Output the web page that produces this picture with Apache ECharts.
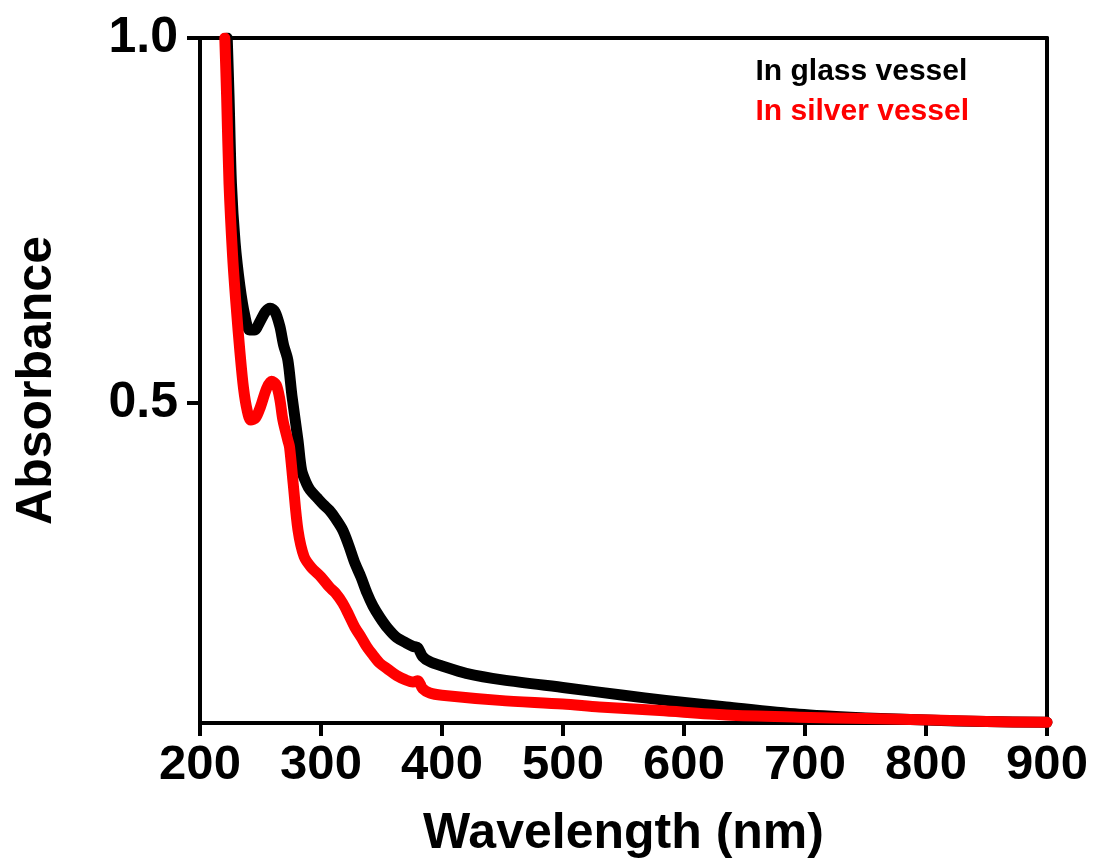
<!DOCTYPE html>
<html>
<head>
<meta charset="utf-8">
<title>Absorbance spectra</title>
<script src="https://cdn.jsdelivr.net/npm/echarts@6/dist/echarts.min.js"></script>
<style>
  html, body { margin: 0; padding: 0; background: #fff; }
  #chart { width: 1094px; height: 865px; }
</style>
</head>
<body>
<div id="chart"></div>
<script>
// Wavelength (nm) / absorbance pairs
const glassWavelength = [222.5, 224, 226, 229, 233, 237, 241, 245, 249, 254, 258, 262, 266, 269, 272.6, 276, 281, 284, 288, 291, 297, 302, 307, 312, 318, 323, 328, 333, 338, 343, 348.5, 355, 362.5, 370, 376, 380, 384, 390, 400, 420, 450, 503, 550, 585, 635, 695, 750, 800, 850, 900];
const glassAbs = [1.0, 0.92, 0.80, 0.72, 0.66, 0.62, 0.60, 0.60, 0.61, 0.625, 0.630, 0.625, 0.605, 0.58, 0.559, 0.51, 0.449, 0.408, 0.39, 0.381, 0.37, 0.361, 0.353, 0.342, 0.326, 0.305, 0.281, 0.262, 0.24, 0.222, 0.207, 0.192, 0.179, 0.172, 0.167, 0.165, 0.153, 0.146, 0.140, 0.130, 0.121, 0.110, 0.100, 0.093, 0.084, 0.074, 0.069, 0.066, 0.064, 0.063];

const silverWavelength = [220.5, 222, 224, 227, 230, 233, 236, 239, 242, 246, 250, 255, 259, 263, 266, 268.5, 272.6, 274, 277, 281, 286, 292, 300, 307, 312, 318, 323, 328, 333, 338, 343, 348.5, 355, 362.5, 370, 376, 380, 384, 390, 400, 447.5, 500, 530, 580, 635, 695, 750, 805, 850, 900];
const silverAbs = [1.0, 0.92, 0.80, 0.70, 0.63, 0.57, 0.52, 0.49, 0.477, 0.48, 0.495, 0.52, 0.530, 0.525, 0.505, 0.477, 0.449, 0.44, 0.39, 0.326, 0.29, 0.275, 0.262, 0.248, 0.240, 0.226, 0.21, 0.193, 0.18, 0.166, 0.155, 0.144, 0.136, 0.127, 0.121, 0.118, 0.120, 0.109, 0.103, 0.100, 0.093, 0.088, 0.084, 0.079, 0.073, 0.070, 0.068, 0.066, 0.064, 0.063];

const yTicks = [0.5, 1.0];
const seriesNames = ['In glass vessel', 'In silver vessel'];

const font = 'Liberation Sans, Arial, sans-serif';

const chart = echarts.init(document.getElementById('chart'));

const pairs = (xs, ys) => xs.map((x, i) => [x, ys[i]]);

const option = {
  backgroundColor: '#fff',
  animation: false,
  grid: { left: 200, right: 47, top: 38, bottom: 142 },
  legend: {
    orient: 'vertical',
    right: 120,
    top: 52,
    icon: 'none',
    itemWidth: 0,
    itemGap: 10,
    selectedMode: false,
    textStyle: { fontSize: 30, fontWeight: 'bold', fontFamily: font, padding: 0 },
    data: [
      { name: seriesNames[0], textStyle: { color: '#000' } },
      { name: seriesNames[1], textStyle: { color: '#ff0000' } }
    ]
  },
  xAxis: [
    {
      type: 'value',
      min: 200,
      max: 900,
      interval: 100,
      name: 'Wavelength (nm)',
      nameLocation: 'middle',
      nameGap: 86,
      nameTextStyle: { fontSize: 50, fontWeight: 'bold', fontFamily: font, color: '#000' },
      axisLine: { lineStyle: { color: '#000', width: 4 } },
      axisTick: { inside: false, length: 13, lineStyle: { color: '#000', width: 4 } },
      axisLabel: { fontSize: 49, fontWeight: 'bold', fontFamily: font, color: '#000', margin: 18 },
      splitLine: { show: false }
    },
    {
      type: 'value',
      position: 'top',
      min: 200,
      max: 900,
      axisLine: { onZero: false, lineStyle: { color: '#000', width: 4 } },
      axisTick: { show: false },
      axisLabel: { show: false },
      splitLine: { show: false }
    }
  ],
  yAxis: [
    {
      type: 'value',
      min: 0.062,
      max: 1.0,
      name: 'Absorbance',
      nameLocation: 'middle',
      nameGap: 138,
      nameRotate: 90,
      nameTextStyle: { fontSize: 50, fontWeight: 'bold', fontFamily: font, color: '#000' },
      axisLine: { show: true, onZero: false, lineStyle: { color: '#000', width: 4 } },
      axisTick: { show: true, length: 13, customValues: yTicks, lineStyle: { color: '#000', width: 4 } },
      axisLabel: {
        customValues: yTicks,
        fontSize: 50, fontWeight: 'bold', fontFamily: font, color: '#000', margin: 22,
        formatter: v => v.toFixed(1)
      },
      splitLine: { show: false }
    },
    {
      type: 'value',
      position: 'right',
      min: 0.062,
      max: 1.0,
      axisLine: { show: true, onZero: false, lineStyle: { color: '#000', width: 4 } },
      axisTick: { show: false },
      axisLabel: { show: false },
      splitLine: { show: false }
    }
  ],
  series: [
    {
      name: seriesNames[0],
      type: 'line',
      data: pairs(glassWavelength, glassAbs),
      showSymbol: false,
      smooth: 0.3,
      lineStyle: { color: '#000', width: 11, join: 'round', cap: 'round' },
      itemStyle: { color: '#000' }
    },
    {
      name: seriesNames[1],
      type: 'line',
      data: pairs(silverWavelength, silverAbs),
      showSymbol: false,
      smooth: 0.3,
      lineStyle: { color: '#ff0000', width: 11, join: 'round', cap: 'round' },
      itemStyle: { color: '#ff0000' }
    }
  ]
};

chart.setOption(option);
window.addEventListener('resize', () => chart.resize());
</script>
</body>
</html>
